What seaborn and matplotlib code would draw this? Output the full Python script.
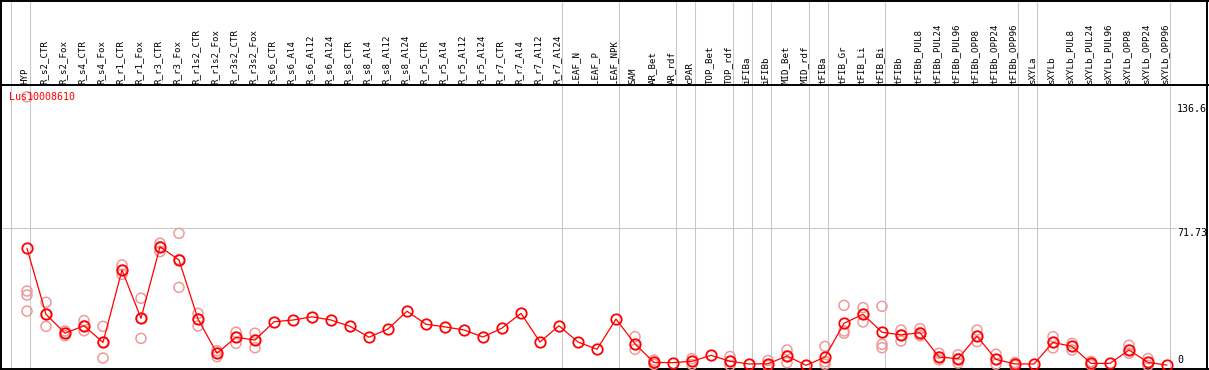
import numpy as np
import pandas as pd
import matplotlib
matplotlib.use("Agg")
import matplotlib.pyplot as plt
import seaborn as sns

gene = "Lus10008610"

labels = [
    "HYP", "R_s2_CTR", "R_s2_Fox", "R_s4_CTR", "R_s4_Fox", "R_r1_CTR", "R_r1_Fox",
    "R_r3_CTR", "R_r3_Fox", "R_r1s2_CTR", "R_r1s2_Fox", "R_r3s2_CTR", "R_r3s2_Fox",
    "R_s6_CTR", "R_s6_Al4", "R_s6_Al12", "R_s6_Al24", "R_s8_CTR", "R_s8_Al4",
    "R_s8_Al12", "R_s8_Al24", "R_r5_CTR", "R_r5_Al4", "R_r5_Al12", "R_r5_Al24",
    "R_r7_CTR", "R_r7_Al4", "R_r7_Al12", "R_r7_Al24", "LEAF_N", "LEAF_P", "LEAF_NPK",
    "SAM", "AR_Bet", "AR_rdf", "cPAR", "TOP_Bet", "TOP_rdf", "iFIBa", "iFIBb",
    "MID_Bet", "MID_rdf", "tFIBa", "tFIB_Gr", "tFIB_Li", "tFIB_Bi", "tFIBb",
    "tFIBb_PUL8", "tFIBb_PUL24", "tFIBb_PUL96", "tFIBb_OPP8", "tFIBb_OPP24",
    "tFIBb_OPP96", "sXYLa", "sXYLb", "sXYLb_PUL8", "sXYLb_PUL24", "sXYLb_PUL96",
    "sXYLb_OPP8", "sXYLb_OPP24", "sXYLb_OPP96",
]

mean_vals = [
    61.2, 26.7, 16.8, 20.7, 12.0, 49.9, 24.6, 62.1, 55.1, 24.2, 6.3, 14.7, 13.2,
    22.8, 23.7, 25.4, 23.7, 20.4, 14.7, 19.0, 28.3, 21.5, 20.1, 18.5, 14.8,
    19.5, 27.2, 12.2, 20.7, 12.2, 8.4, 24.2,
    11.2, 1.5, 1.4, 2.1, 5.2, 2.1, 0.7, 0.8, 4.9, 0.0, 4.3, 22.0, 26.7, 17.3, 15.9,
    17.1, 4.3, 3.5, 15.2, 3.1, 0.7, 0.7, 12.0, 9.9, 1.0, 1.0, 8.0, 1.5, 0.1,
]

# individual replicates (empty list = only the mean is shown)
rep_vals = [
    [140.6, 38.9, 36.8, 28.4], [33.0, 26.7, 20.4], [18.0, 16.8, 15.5],
    [23.4, 20.7, 18.1], [20.4, 12.0, 3.8], [52.5, 49.9, 47.6], [35.1, 24.6, 14.1],
    [63.9, 62.1, 59.5], [69.1, 55.4, 40.8], [27.2, 24.2, 20.6], [7.6, 6.3, 4.5],
    [17.3, 14.7, 11.5], [16.8, 13.2, 9.2],
    [], [], [], [], [], [], [], [], [], [], [], [], [], [], [], [], [], [], [],
    [15.0, 10.8, 8.4], [2.7, 1.5, 0.5], [], [3.5, 2.1, 0.4], [], [4.6, 2.1, 0.0],
    [], [2.5, 0.0, 0.0], [8.0, 4.9, 1.4], [], [9.9, 1.9, 0.6],
    [31.4, 18.0, 16.8], [30.2, 26.7, 22.7], [30.9, 11.0, 9.2], [18.5, 15.9, 12.7],
    [19.2, 17.1, 15.5], [6.3, 4.3, 2.8], [5.5, 3.5, 1.2], [18.5, 15.2, 12.4],
    [5.8, 3.1, 0.6], [1.5, 0.7, 0.0], [], [15.0, 12.0, 9.1], [11.5, 9.9, 8.0],
    [2.0, 1.0, 0.3], [], [10.5, 8.0, 6.3], [3.5, 1.5, 0.0], [],
]

group_sizes = [1, 28, 3, 3, 1, 2, 1, 1, 2, 1, 3, 7, 1, 7]
y_ticks = [0, 71.73, 136.6]
y_tick_text = ["0", "71.73", "136.6"]

W, H = 1209, 370


def py(px):
    # pixel row (from top) -> data value
    return (365.3 - px) / 1.91


def px_x(px):
    # pixel column -> category position
    return (px - 27) / 19.0


df_mean = pd.DataFrame({"pos": np.arange(len(labels)), "value": mean_vals})
df_rep = pd.DataFrame(
    [(i, v) for i, reps in enumerate(rep_vals) for v in reps],
    columns=["pos", "value"],
)

sns.set_style("white")
fig = plt.figure(figsize=(W / 100, H / 100), dpi=100)
ax = fig.add_axes([0, 0, 1, 1])
ax.set_xlim(px_x(0), px_x(W))
ax.set_ylim(py(H), py(0))
ax.set_axis_off()

lw1 = 0.75
grey = "#c8c8c8"

# group separators
ends = np.concatenate([[-1], np.cumsum(group_sizes) - 1])
for e in ends:
    ax.axvline(e + 0.17, color=grey, lw=lw1, zorder=1)

# horizontal reference line
ax.axhline(y_ticks[1], xmin=0, xmax=1176 / W, color=grey, lw=lw1, zorder=1)

# frame lines
ax.axhline(py(0.5), color="black", lw=1.4, zorder=2)
ax.axhline(py(85), color="black", lw=1.4, zorder=2)
ax.axhline(py(369), color="black", lw=1.4, zorder=2)
ax.axvline(px_x(1), color="black", lw=1.4, zorder=2)
ax.axvline(px_x(1207), color="black", lw=1.4, zorder=2)

sns.scatterplot(data=df_rep, x="pos", y="value", marker="o", s=52,
                facecolors="none", edgecolors="#ee9a9a", linewidth=1.1,
                ax=ax, zorder=3, legend=False)
sns.lineplot(data=df_mean, x="pos", y="value", color="red", lw=0.9,
             marker="o", markersize=7.5, markerfacecolor="none",
             markeredgecolor="red", markeredgewidth=1.3, ax=ax, zorder=4)
ax.set_axis_off()

mono = "DejaVu Sans Mono"
for i, lab in enumerate(labels):
    ax.text(i - 0.1, py(83.5), lab, rotation=90, ha="center", va="bottom",
            fontsize=6.6, family=mono, color="black")

ax.text(px_x(9), py(97), gene, color="red", ha="left", va="center",
        fontsize=7.2, family=mono)

for v, t in zip(y_ticks, y_tick_text):
    ax.text(px_x(1177), v, t, ha="left", va="bottom" if v == 0 else "top",
            fontsize=7.2, family=mono, color="black")

fig.savefig("out.png", dpi=100)
